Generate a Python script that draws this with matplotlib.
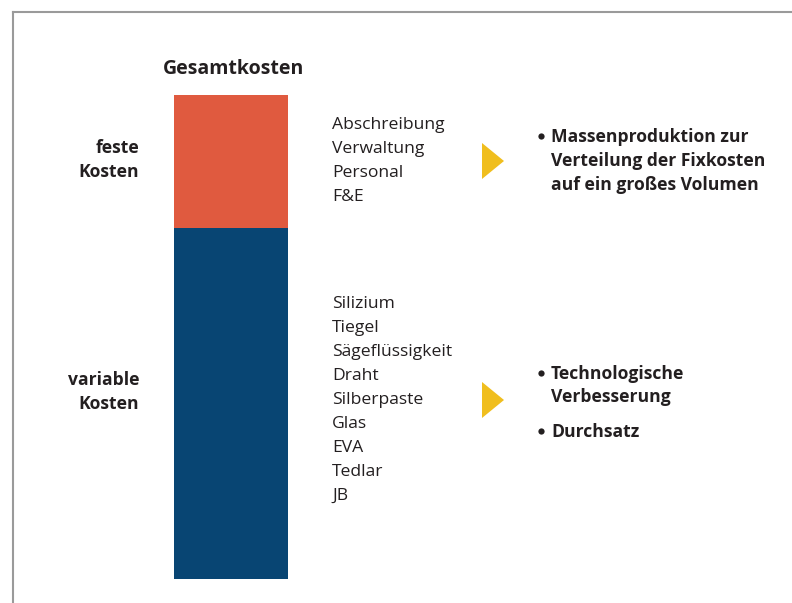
import matplotlib.pyplot as plt
from matplotlib.patches import Polygon

plt.rcParams['font.family'] = ['Open Sans', 'DejaVu Sans']

# data
segments = ['variable Kosten', 'feste Kosten']
shares = [72.5, 27.5]
colors = ['#084573', '#E05A3F']
fixed_items = ['Abschreibung', 'Verwaltung', 'Personal', 'F&E']
variable_items = ['Silizium', 'Tiegel', 'Sägeflüssigkeit', 'Draht', 'Silberpaste',
                  'Glas', 'EVA', 'Tedlar', 'JB']
fixed_notes = [['Massenproduktion zur', 'Verteilung der Fixkosten', 'auf ein großes Volumen']]
variable_notes = [['Technologische', 'Verbesserung'], ['Durchsatz']]

txt = '#231F20'
W, H = 792, 603
fig = plt.figure(figsize=(W / 100, H / 100), dpi=100)

# overlay in pixel coords for text and decoration
ax = fig.add_axes([0, 0, 1, 1])
ax.set_xlim(0, W)
ax.set_ylim(H, 0)
ax.axis('off')

# frame lines
ax.plot([12.5, W], [11.5, 11.5], color='#9a9a9a', lw=1.5)
ax.plot([12.5, 12.5], [11.5, H], color='#9a9a9a', lw=1.5)

# stacked bar
bax = fig.add_axes([174 / W, (H - 579) / H, 114 / W, 484 / H])
bottom = 0
for s, c in zip(shares, colors):
    bax.bar(0, s, bottom=bottom, width=1, color=c)
    bottom += s
bax.set_xlim(-0.5, 0.5)
bax.set_ylim(0, sum(shares))
bax.axis('off')

fs = 12.6
ax.text(233, 69, 'Gesamtkosten', ha='center', va='center', fontsize=14,
        fontweight='bold', color=txt)

ax.text(139, 148, 'feste', ha='right', va='center', fontsize=fs, fontweight='bold', color=txt)
ax.text(139, 172, 'Kosten', ha='right', va='center', fontsize=fs, fontweight='bold', color=txt)
ax.text(139, 380, 'variable', ha='right', va='center', fontsize=fs, fontweight='bold', color=txt)
ax.text(139, 404, 'Kosten', ha='right', va='center', fontsize=fs, fontweight='bold', color=txt)

for i, t in enumerate(fixed_items):
    ax.text(332, 125 + 24 * i, t, ha='left', va='center', fontsize=fs, color=txt)
for i, t in enumerate(variable_items):
    ax.text(332, 304 + 24 * i, t, ha='left', va='center', fontsize=fs, color=txt)

# arrows
for yc in (161, 400):
    ax.add_patch(Polygon([[482, yc - 18], [504, yc], [482, yc + 18]],
                         closed=True, color='#F0BE1E', lw=0))


def bullets(groups, y0, step, gap):
    y = y0
    for g in groups:
        ax.plot(541, y - 1.5, 'o', ms=4.5, color=txt, mew=0)
        for line in g:
            ax.text(551, y, line, ha='left', va='center', fontsize=fs,
                    fontweight='bold', color=txt)
            y += step
        y += gap


bullets(fixed_notes, 137, 24, 0)
bullets(variable_notes, 374, 23, 12)

fig.savefig('out.png', dpi=100)
